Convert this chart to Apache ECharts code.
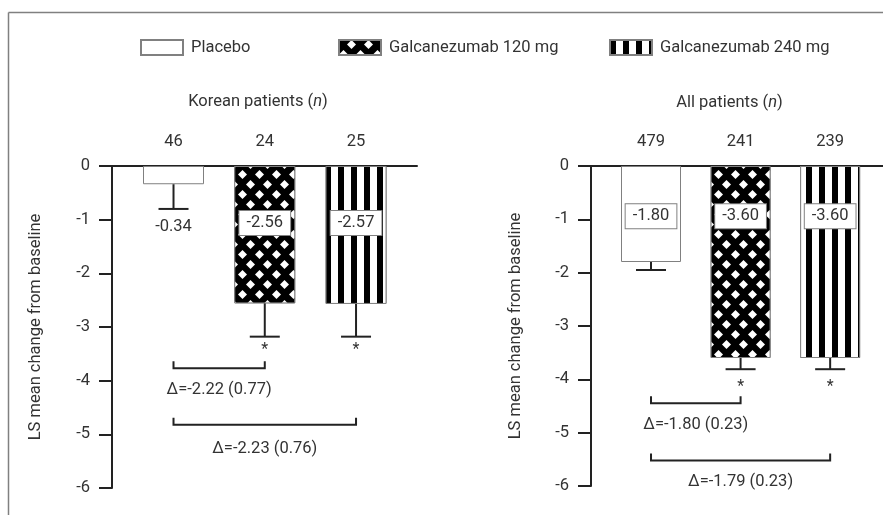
<!DOCTYPE html>
<html><head><meta charset="utf-8">
<script src="https://cdn.jsdelivr.net/npm/echarts@6/dist/echarts.min.js"></script>
<style>html,body{margin:0;padding:0;background:#fff}#c{width:883px;height:515px}</style>
</head><body><div id="c"></div>
<script>
// ---- data ----
const groups = ['Placebo', 'Galcanezumab 120 mg', 'Galcanezumab 240 mg'];
const panelTitles = ['Korean patients', 'All patients'];
const koreanN = [46, 24, 25];
const koreanMean = [-0.34, -2.56, -2.57];
const koreanSE = [0.46, 0.62, 0.61];
const koreanSig = ['', '*', '*'];
const koreanDeltaPairs = [[0, 1], [0, 2]];
const koreanDelta = ['Δ=-2.22 (0.77)', 'Δ=-2.23 (0.76)'];
const allN = [479, 241, 239];
const allMean = [-1.80, -3.60, -3.60];
const allSE = [0.15, 0.21, 0.21];
const allSig = ['', '*', '*'];
const allDeltaPairs = [[0, 1], [0, 2]];
const allDelta = ['Δ=-1.80 (0.23)', 'Δ=-1.79 (0.23)'];
const yMin = -6, yMax = 0, yStep = 1;
const yAxisName = 'LS mean change from baseline';

// ---- layout / style ----
const FONT = 'Roboto, "Noto Sans", sans-serif';
const FS = 16.5;
const TXT = '#333';
const INK = '#222';
const panels = [
  { N: koreanN, mean: koreanMean, se: koreanSE, sig: koreanSig, pairs: koreanDeltaPairs, delta: koreanDelta,
    grid: { left: 112, top: 166, width: 305, height: 322 }, xMin: -0.674, xMax: 2.668, barWidth: 61,
    title: [258, 102], labelY: [-1.13, -1.06, -1.06], boxed: [false, true, true], starY: -3.42,
    bracketY: [-3.77, -4.82], bracketLabelY: [-4.18, -5.27], nameGap: 68 },
  { N: allN, mean: allMean, se: allSE, sig: allSig, pairs: allDeltaPairs, delta: allDelta,
    grid: { left: 591, top: 166, width: 292, height: 320 }, xMin: -0.67, xMax: 2.59, barWidth: 60,
    title: [729.5, 103], labelY: [-0.94, -0.94, -0.94], boxed: [true, true, true], starY: -4.14,
    bracketY: [-4.45, -5.52], bracketLabelY: [-4.86, -5.92], nameGap: 67 }
];
const barColors = ['#fff', '#000', '#fff'];
const decals = [
  null,
  { symbol: 'diamond', symbolSize: 1, color: '#fff', backgroundColor: '#000',
    dashArrayX: [[9, 8], [0, 8, 9, 0]], dashArrayY: [9, 1], rotation: 0 },
  { symbol: 'rect', symbolSize: 1, color: '#000', backgroundColor: '#fff',
    dashArrayX: [6, 7], dashArrayY: [10, 0], rotation: 0 }
];
const legendLeft = [140, 338, 609];

const chart = echarts.init(document.getElementById('c'), null, { renderer: 'canvas' });

const grids = [], xAxes = [], yAxes = [], series = [], graphics = [];
panels.forEach((P, p) => {
  grids.push(Object.assign({ containLabel: false }, P.grid));
  xAxes.push({ type: 'value', gridIndex: p, min: P.xMin, max: P.xMax, position: 'top',
    axisLine: { show: true, onZero: false, lineStyle: { color: INK, width: 2 } },
    axisTick: { show: false }, axisLabel: { show: false }, splitLine: { show: false } });
  yAxes.push({ type: 'value', gridIndex: p, min: yMin, max: yMax, interval: yStep,
    name: yAxisName, nameLocation: 'middle', nameGap: P.nameGap,
    nameTextStyle: { fontSize: FS, color: TXT, fontFamily: FONT },
    axisLine: { show: true, onZero: false, lineStyle: { color: INK, width: 2 } },
    axisTick: { show: true, length: 13, lineStyle: { color: INK, width: 2 } },
    axisLabel: { margin: 22, fontSize: FS, color: TXT, fontFamily: FONT },
    splitLine: { show: false } });
  groups.forEach((g, i) => {
    series.push({ type: 'bar', name: g, xAxisIndex: p, yAxisIndex: p,
      data: [[i, P.mean[i]]], barWidth: P.barWidth, barGap: '-100%', silent: true,
      itemStyle: { color: barColors[i], borderColor: '#808080', borderWidth: 1, decal: decals[i] || undefined } });
  });
  // error bars, n labels, value labels, significance marks
  series.push({ type: 'custom', xAxisIndex: p, yAxisIndex: p, silent: true, z: 5,
    data: P.mean.map((m, i) => [i, m]), encode: { x: 0, y: 1 },
    renderItem: (params, api) => {
      const i = params.dataIndex, m = P.mean[i];
      const top = api.coord([i, m]);
      const bot = api.coord([i, m - P.se[i]]);
      const ch = [
        { type: 'line', shape: { x1: top[0], y1: top[1], x2: bot[0], y2: bot[1] }, style: { stroke: INK, lineWidth: 2 } },
        { type: 'line', shape: { x1: bot[0] - 15, y1: bot[1], x2: bot[0] + 15, y2: bot[1] }, style: { stroke: INK, lineWidth: 2 } }
      ];
      const z0 = api.coord([i, 0]);
      ch.push({ type: 'text', x: z0[0], y: z0[1] - 24,
        style: { text: String(P.N[i]), fill: TXT, font: FS + 'px ' + FONT, align: 'center', verticalAlign: 'middle' } });
      const lp = api.coord([i, P.labelY[i]]);
      const st = { text: m.toFixed(2), fill: TXT, font: FS + 'px ' + FONT, align: 'center', verticalAlign: 'middle' };
      if (P.boxed[i]) Object.assign(st, { backgroundColor: '#fff', borderColor: '#808080', borderWidth: 1, padding: [4, 7, 3, 7] });
      ch.push({ type: 'text', x: lp[0], y: lp[1], style: st });
      if (P.sig[i]) {
        const sp = api.coord([i, P.starY]);
        ch.push({ type: 'text', x: sp[0], y: sp[1], style: { text: P.sig[i], fill: TXT, font: '16px ' + FONT, align: 'center', verticalAlign: 'middle' } });
      }
      return { type: 'group', children: ch };
    } });
  // comparison brackets
  series.push({ type: 'custom', xAxisIndex: p, yAxisIndex: p, silent: true, z: 5,
    data: P.pairs.map((pr, k) => [pr[0], P.bracketY[k]]), encode: { x: 0, y: 1 },
    renderItem: (params, api) => {
      const k = params.dataIndex, pr = P.pairs[k];
      const a = api.coord([pr[0], P.bracketY[k]]);
      const b = api.coord([pr[1], P.bracketY[k]]);
      const lp = api.coord([(pr[0] + pr[1]) / 2, P.bracketLabelY[k]]);
      return { type: 'group', children: [
        { type: 'polyline', shape: { points: [[a[0], a[1] - 7], [a[0], a[1]], [b[0], b[1]], [b[0], b[1] - 7]] },
          style: { stroke: INK, lineWidth: 2, fill: null } },
        { type: 'text', x: lp[0], y: lp[1], style: { text: P.delta[k], fill: TXT, font: FS + 'px ' + FONT, align: 'center', verticalAlign: 'middle' } }
      ] };
    } });
  graphics.push({ type: 'text', x: P.title[0], y: P.title[1],
    style: { text: panelTitles[p] + ' ({i|n})', fill: TXT, font: FS + 'px ' + FONT, align: 'center', verticalAlign: 'middle',
      rich: { i: { fontStyle: 'italic', fontSize: FS, fontFamily: FONT, fill: TXT } } } });
});

graphics.push({ type: 'line', shape: { x1: 8.5, y1: 12.5, x2: 883, y2: 12.5 }, style: { stroke: '#808080', lineWidth: 1.5 } });
graphics.push({ type: 'line', shape: { x1: 8.5, y1: 12.5, x2: 8.5, y2: 515 }, style: { stroke: '#808080', lineWidth: 1.5 } });

chart.setOption({
  animation: false,
  backgroundColor: '#fff',
  textStyle: { fontFamily: FONT },
  legend: groups.map((g, i) => ({ data: [g], left: legendLeft[i], top: 39, padding: 0, icon: 'rect',
    itemWidth: 42, itemHeight: 15, selectedMode: false,
    textStyle: { fontSize: FS, color: TXT, fontFamily: FONT, padding: [0, 0, 0, 3] } })),
  grid: grids, xAxis: xAxes, yAxis: yAxes, series: series, graphic: graphics
});
</script></body></html>
